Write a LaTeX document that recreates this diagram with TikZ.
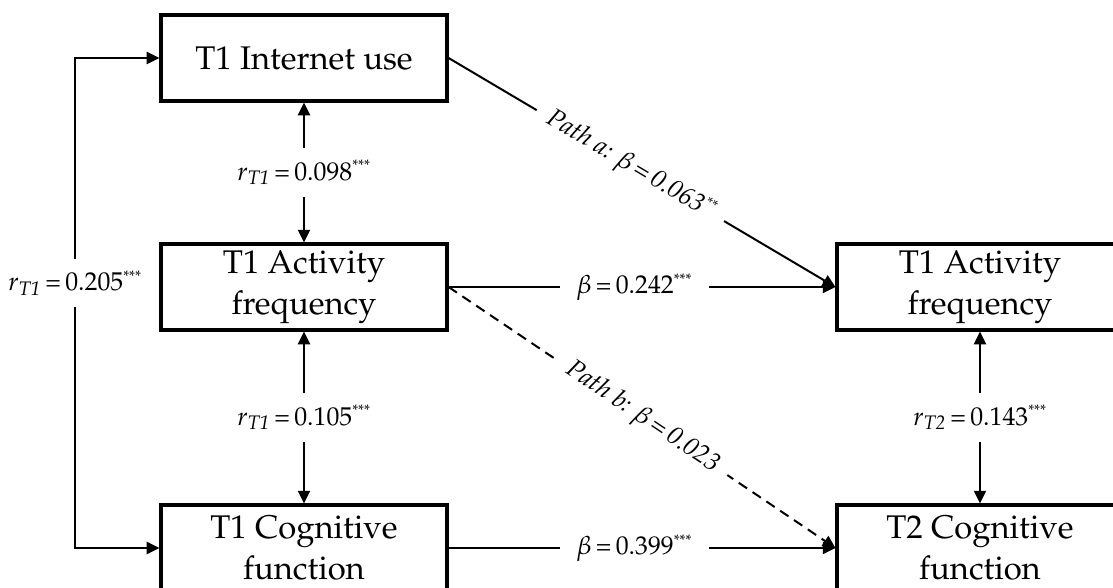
\documentclass[tikz,border=0pt]{standalone}
\usepackage[T1]{fontenc}
\usepackage{mathpazo}
\usetikzlibrary{arrows.meta}
\tikzset{
  pm box/.style={draw, line width=2.7pt, minimum width=8.58cm, minimum height=2.58cm,
    inner sep=0pt, align=center, font=\fontsize{28}{35}\selectfont},
  pm arrow/.style={-{Triangle[length=3.8mm,width=3.6mm]}, line width=1.7pt},
  pm dual/.style={{Triangle[length=3.8mm,width=3.6mm]}-{Triangle[length=3.8mm,width=3.6mm]},
    line width=1.7pt},
  pm label/.style={fill=white, inner xsep=5mm, inner ysep=3.5mm,
    font=\fontsize{22}{26}\selectfont}
}
\newcommand{\stars}[1]{\textsuperscript{\fontsize{13}{13}\selectfont#1}}

\begin{document}
\begin{tikzpicture}[x=0.03cm, y=-0.03cm]
  \clip (0,0) rectangle (1113,588);
  \fill[white] (0,0) rectangle (1113,588);
  % boxes, at pixel centres
  \node[pm box] (inet) at (304,58) {T1 Internet use};
  \node[pm box] (act1) at (304,287) {T1 Activity\\frequency};
  \node[pm box] (cog1) at (304,548) {T1 Cognitive\\function};
  \node[pm box] (act2) at (980,287) {T1 Activity\\frequency};
  \node[pm box] (cog2) at (980,548) {T2 Cognitive\\function};
  \coordinate (loopx) at (75,0);
  % correlations
  \draw[pm dual] (inet) -- node[pm label] {$r_{\mathit{T1}}$\,=\,0.098\stars{***}} (act1);
  \draw[pm dual] (act1) -- node[pm label] {$r_{\mathit{T1}}$\,=\,0.105\stars{***}} (cog1);
  \draw[pm dual] (act2) -- node[pm label] {$r_{\mathit{T2}}$\,=\,0.143\stars{***}} (cog2);
  \draw[pm dual] (inet.west) -- (inet.west -| loopx)
    -- node[pm label, pos=0.46, inner xsep=1mm] {$r_{\mathit{T1}}$\,=\,0.205\stars{***}} (cog1.west -| loopx) -- (cog1.west);
  % regressions
  \draw[pm arrow] (act1.east) -- node[pm label, pos=0.48] {$\beta$\,=\,0.242\stars{***}} (act2.west);
  \draw[pm arrow] (cog1.east) -- node[pm label, pos=0.48] {$\beta$\,=\,0.399\stars{***}} (cog2.west);
  \draw[pm arrow] (inet.east) -- node[pm label, sloped, pos=0.47, inner xsep=4mm]
    {\textit{Path a: $\beta$\,=\,0.063\stars{**}}} (act2.west);
  \draw[pm arrow, dash pattern=on 3mm off 2mm] (act1.east) -- node[pm label, sloped, inner xsep=4mm]
    {\textit{Path b: $\beta$\,=\,0.023}} (cog2.west);
\end{tikzpicture}
\end{document}
